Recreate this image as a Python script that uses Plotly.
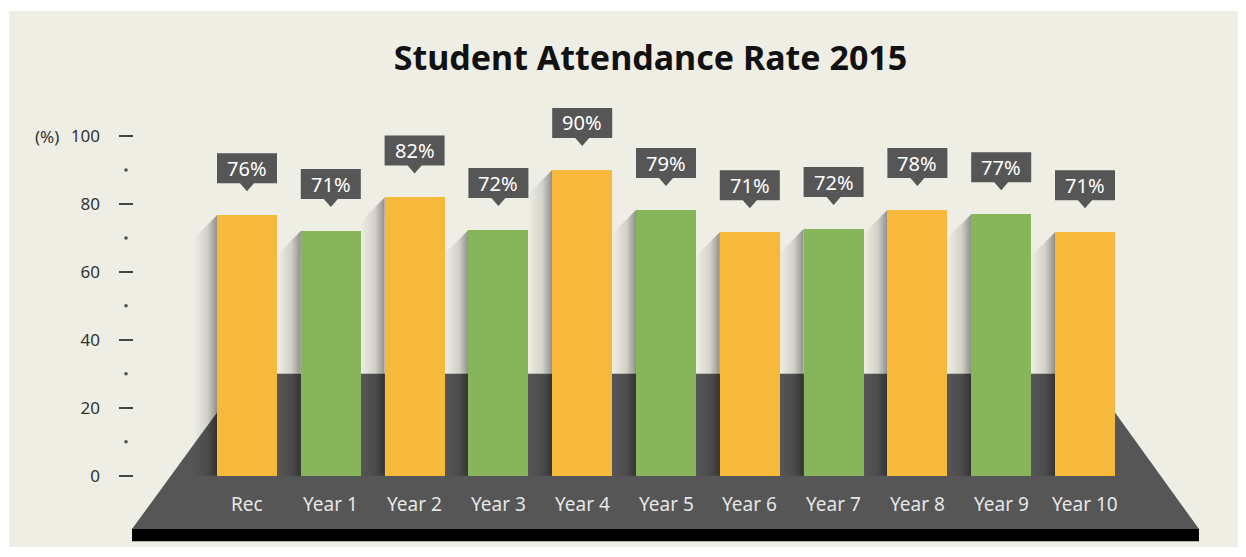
import plotly.graph_objects as go

# ---------------- data ----------------
categories = ["Rec", "Year 1", "Year 2", "Year 3", "Year 4", "Year 5",
              "Year 6", "Year 7", "Year 8", "Year 9", "Year 10"]
attendance_label = [76, 71, 82, 72, 90, 79, 71, 72, 78, 77, 71]
bar_height = [76.7, 72.0, 81.9, 72.3, 90.0, 78.2, 71.7, 72.6, 78.2, 77.0, 71.7]
y_tick_vals = [0, 20, 40, 60, 80, 100]
y_dot_vals = [10, 30, 50, 70, 90]

# ---------------- style ----------------
ORANGE = "#f6b93c"
GREEN = "#86b55b"
BEIGE = "#efeee4"
DARK = "#565656"
W, H = 1246, 557
OFF = 8   # page body margin
ML, MR, MT, MB = 119 - OFF, 36 + OFF, 90 - OFF, 12 + OFF
X_RANGE = [-1.5275, 11.4916]
Y_RANGE = [-20.40, 113.54]
BAR_W = 0.716
PW = W - ML - MR
PH = H - MT - MB
PPX = PW / (X_RANGE[1] - X_RANGE[0])   # pixels per category unit
PPY = PH / (Y_RANGE[1] - Y_RANGE[0])   # pixels per % unit
FONT = "Noto Sans"

n = len(categories)
xs = list(range(n))
colors = [ORANGE if i % 2 == 0 else GREEN for i in xs]

fig = go.Figure()

# platform: back wall + floor (perspective)
half = BAR_W / 2
wall_top = 30
floor_join = 18.6
floor_front = -15.7
black_bottom = -19.3
left_front = -1 - 0.372
right_front = n - 1 + 1.36
fig.add_trace(go.Scatter(
    x=[left_front, -half, -half, n - 1 + half, n - 1 + half, right_front, left_front],
    y=[floor_front, floor_join, wall_top, wall_top, floor_join, floor_front, floor_front],
    fill="toself", fillcolor=DARK, mode="lines", line=dict(width=0),
    hoverinfo="skip", showlegend=False, xaxis="x", yaxis="y"))
fig.add_trace(go.Scatter(
    x=[left_front, right_front, right_front, left_front, left_front],
    y=[floor_front, floor_front, black_bottom, black_bottom, floor_front],
    fill="toself", fillcolor="#000000", mode="lines", line=dict(width=0),
    hoverinfo="skip", showlegend=False, xaxis="x", yaxis="y"))

# bar shadows (cast to the left)
sx = 24 / PPX
sy = 24 / PPY
for i, h in zip(xs, bar_height):
    xl = i - half
    fig.add_trace(go.Scatter(
        x=[xl, xl - sx, xl - sx, xl, xl],
        y=[h, h - sy, 0, 0, h],
        fill="toself", mode="lines", line=dict(width=0),
        fillgradient=dict(type="horizontal",
                          colorscale=[[0, "rgba(0,0,0,0)"], [0.6, "rgba(0,0,0,0.12)"],
                                      [1, "rgba(0,0,0,0.40)"]]),
        hoverinfo="skip", showlegend=False, xaxis="x", yaxis="y"))

# minor dots on the y axis
dot_x = X_RANGE[0] + 7 / PPX
fig.add_trace(go.Scatter(
    x=[dot_x] * len(y_dot_vals), y=y_dot_vals, mode="markers",
    marker=dict(size=3.5, color="#4a4a4a"), hoverinfo="skip",
    showlegend=False, cliponaxis=False, xaxis="x", yaxis="y"))

# bars (overlay axes so they sit above the platform)
fig.add_trace(go.Bar(
    x=xs, y=bar_height, width=BAR_W, marker=dict(color=colors, line=dict(width=0)),
    hoverinfo="x+y", showlegend=False, xaxis="x2", yaxis="y2"))


# white page edges around the beige panel
def px_x(p):
    return (p - OFF - ML) / PW


def px_y(p):
    return (H - MB - (p - OFF)) / PH


shapes = [
    dict(type="rect", xref="paper", yref="paper", layer="below",
         x0=px_x(0), x1=px_x(9), y0=px_y(570), y1=px_y(0),
         fillcolor="#ffffff", line=dict(width=0)),
    dict(type="rect", xref="paper", yref="paper", layer="below",
         x0=px_x(0), x1=px_x(1260), y0=px_y(11), y1=px_y(0),
         fillcolor="#ffffff", line=dict(width=0)),
    dict(type="rect", xref="paper", yref="paper", layer="below",
         x0=px_x(0), x1=px_x(1260), y0=px_y(570), y1=px_y(547),
         fillcolor="#ffffff", line=dict(width=0)),
]
annotations = []
for i, h, lab in zip(xs, bar_height, attendance_label):
    shapes.append(dict(
        type="path", xref="x", yref="y", xsizemode="pixel", ysizemode="pixel",
        xanchor=i, yanchor=h,
        path="M-30,32 L-7,32 L0,24 L7,32 L30,32 L30,62 L-30,62 Z",
        fillcolor=DARK, line=dict(width=0), layer="above"))
    annotations.append(dict(
        x=i, y=h, xref="x", yref="y", yshift=47, text=f"{lab}%", showarrow=False,
        font=dict(family=FONT, size=20, color="#ffffff"), xanchor="center", yanchor="middle"))
for i, c in zip(xs, categories):
    annotations.append(dict(
        x=i, y=0, xref="x", yref="y", yshift=-28, text=c, showarrow=False,
        font=dict(family=FONT, size=19, color="#e6e6e6"), xanchor="center", yanchor="middle"))
annotations.append(dict(
    x=px_x(61), y=100, xref="paper", yref="y", text="(%)", showarrow=False,
    font=dict(family=FONT, size=17, color="#333333"), xanchor="right", yanchor="middle"))

fig.update_layout(
    width=W, height=H,
    margin=dict(l=ML, r=MR, t=MT, b=MB, pad=0),
    paper_bgcolor=BEIGE, plot_bgcolor="rgba(0,0,0,0)",
    title=dict(text="<b>Student Attendance Rate 2015</b>", x=(650.5 - OFF) / W, xref="container",
               y=1 - (58 - OFF) / H, yref="container", xanchor="center", yanchor="middle",
               font=dict(family=FONT, size=34, color="#111111")),
    xaxis=dict(range=X_RANGE, visible=False, fixedrange=True),
    yaxis=dict(range=Y_RANGE, tickvals=y_tick_vals, ticks="inside", ticklen=14,
               tickwidth=2, tickcolor="#444444", showgrid=False, zeroline=False,
               showline=False, ticklabelstandoff=18,
               tickfont=dict(family=FONT, size=17, color="#333333"), fixedrange=True),
    xaxis2=dict(range=X_RANGE, overlaying="x", visible=False, fixedrange=True),
    yaxis2=dict(range=Y_RANGE, overlaying="y", visible=False, fixedrange=True),
    shapes=shapes, annotations=annotations, bargap=0,
)

fig.write_html("out.html")
